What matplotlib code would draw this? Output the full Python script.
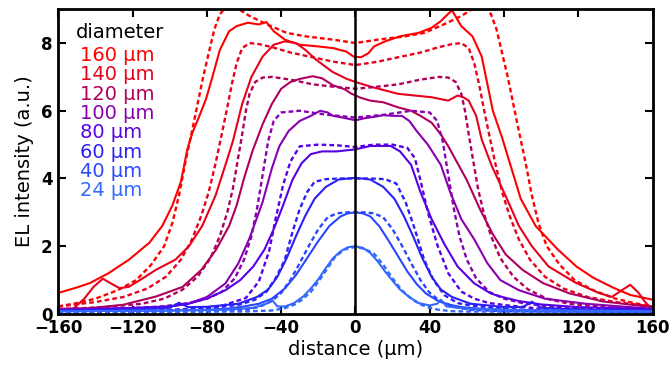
import matplotlib
matplotlib.use("Agg")
import matplotlib.pyplot as plt

# diameters (um) and colours of the legend text / curves
diameters = [160, 140, 120, 100, 80, 60, 40, 24]
colors = ["#ff0000", "#e8001c", "#b0005c", "#8800b0", "#5800e6", "#2a20f8", "#2a46ff", "#3468ff"]

# measured profiles (solid)
x_s160 = [-160, -150, -143, -133, -122, -111, -104, -98.6, -94, -90.5, -87.8, -84, -80.5, -77, -73, -68, -64, -58, -52, -48, -44, -38, -30, -20, -12, -5, -1, 3, 7, 10, 16, 24, 34, 41, 46, 52, 57, 63, 68, 71, 74, 79, 84, 89, 97, 109, 119, 128, 139, 148, 160]
y_s160 = [0.62, 0.78, 0.91, 1.2, 1.6, 2.1, 2.6, 3.2, 3.9, 4.86, 5.35, 5.85, 6.34, 7.0, 7.8, 8.35, 8.5, 8.6, 8.55, 8.62, 8.35, 8.1, 7.95, 7.9, 7.85, 7.75, 7.6, 7.58, 7.7, 7.9, 8.05, 8.2, 8.3, 8.45, 8.65, 8.97, 8.5, 8.2, 7.6, 6.8, 6.0, 5.2, 4.3, 3.4, 2.6, 1.9, 1.4, 1.07, 0.77, 0.56, 0.42]

x_s140 = [-160, -152, -146, -141, -136, -131, -127, -122, -116, -107.5, -97, -89.6, -82.5, -75.3, -70, -66, -61, -56, -50, -44, -38, -32, -27, -21, -12.4, -5, 0, 9, 23, 41, 50, 55, 58, 61, 65, 68, 73.5, 81, 88, 95, 104, 118.6, 131, 138, 143.5, 148, 152.5, 156, 160]
y_s140 = [0.08, 0.15, 0.45, 0.8, 1.04, 0.88, 0.76, 0.8, 1.0, 1.3, 1.6, 2.0, 2.6, 3.5, 4.4, 5.1, 6.2, 7.0, 7.6, 7.95, 8.05, 8.0, 7.8, 7.5, 7.15, 6.95, 6.85, 6.7, 6.5, 6.4, 6.3, 6.45, 6.4, 6.3, 5.85, 5.15, 4.36, 3.47, 2.6, 2.0, 1.4, 0.92, 0.62, 0.5, 0.7, 0.86, 0.62, 0.35, 0.12]

x_s120 = [-160, -143, -125, -107, -93, -83, -75, -68, -64, -60, -55.5, -50, -45, -40, -35, -30, -23, -18, -12, -6, -2, 3, 8, 15, 23, 30, 35, 41, 46, 50, 55, 60, 67, 74, 81, 90, 101, 115, 133, 160]
y_s120 = [0.15, 0.17, 0.27, 0.52, 0.8, 1.3, 1.9, 2.6, 3.2, 4.0, 4.8, 5.6, 6.2, 6.65, 6.85, 6.94, 7.02, 6.96, 6.75, 6.64, 6.5, 6.38, 6.3, 6.25, 6.1, 6.0, 5.85, 5.65, 5.3, 4.95, 4.45, 3.95, 3.1, 2.35, 1.75, 1.3, 0.91, 0.61, 0.37, 0.2]

x_s100 = [-160, -120, -100, -90, -80, -70, -63, -57, -50, -45, -41, -36, -30, -24, -19, -15, -12, -7, 0, 5, 10, 15, 20, 25, 29, 33, 39, 46, 51, 57, 64, 71, 78, 88, 102, 124, 160]
y_s100 = [0.1, 0.15, 0.22, 0.3, 0.5, 0.9, 1.5, 2.24, 3.3, 4.3, 4.95, 5.4, 5.7, 5.85, 6.0, 5.95, 5.85, 5.8, 5.72, 5.78, 5.82, 5.87, 5.85, 5.85, 5.7, 5.4, 5.0, 4.4, 3.6, 2.8, 2.2, 1.5, 1.0, 0.7, 0.45, 0.3, 0.15]

x_s80 = [-160, -120, -100, -90, -80, -70, -62, -55, -49, -44, -39, -34, -29, -24, -18, -10, 0, 8, 19, 24, 30, 35, 41, 48, 55, 64, 73, 79, 88, 94, 100, 120, 160]
y_s80 = [0.12, 0.18, 0.22, 0.3, 0.45, 0.7, 1.0, 1.4, 1.9, 2.5, 3.2, 3.95, 4.45, 4.72, 4.8, 4.8, 4.86, 4.96, 4.96, 4.8, 4.4, 3.6, 2.8, 2.05, 1.4, 0.9, 0.6, 0.5, 0.38, 0.33, 0.28, 0.2, 0.14]

x_s60 = [-160, -120, -100, -95, -90, -80, -63, -53, -47, -42, -37, -32, -27, -22, -16, -9, 0, 8, 15, 21, 26, 31, 36, 41, 46, 52, 62, 79, 90, 95, 100, 120, 160]
y_s60 = [0.1, 0.13, 0.18, 0.33, 0.2, 0.21, 0.3, 0.5, 0.72, 1.1, 1.65, 2.3, 2.9, 3.4, 3.75, 3.97, 4.02, 3.97, 3.75, 3.4, 2.9, 2.3, 1.65, 1.1, 0.72, 0.5, 0.3, 0.21, 0.2, 0.36, 0.18, 0.13, 0.1]

x_s40 = [-160, -100, -80, -70, -61, -52, -45, -38, -32, -26, -20, -14, -8, -4, 0, 4, 8, 13, 18, 23, 28, 33, 38, 44, 50, 57, 68, 80, 100, 160]
y_s40 = [0.08, 0.1, 0.12, 0.15, 0.21, 0.3, 0.45, 0.75, 1.15, 1.65, 2.15, 2.6, 2.88, 2.97, 3.0, 2.97, 2.88, 2.58, 2.15, 1.7, 1.25, 0.88, 0.6, 0.4, 0.28, 0.2, 0.15, 0.12, 0.1, 0.08]

x_s24 = [-160, -100, -70, -55, -48, -45, -42, -38, -33, -28, -24, -20, -16, -12, -8, -4, 0, 4, 8, 12, 16, 20, 24, 29, 34, 40, 44, 46, 49, 60, 100, 160]
y_s24 = [0.08, 0.1, 0.12, 0.18, 0.3, 0.42, 0.22, 0.22, 0.32, 0.52, 0.75, 1.02, 1.35, 1.65, 1.85, 1.97, 2.0, 1.95, 1.8, 1.55, 1.25, 0.98, 0.72, 0.5, 0.32, 0.25, 0.3, 0.42, 0.22, 0.15, 0.1, 0.08]

# simulated profiles (dashed)
x_d160 = [-160, -150, -140, -128, -118, -110, -103, -98.5, -95, -91.5, -88, -85, -82, -79, -76, -73, -70, -66, -62, -57, -48, -37, -27, -12, 0, 12, 27, 37, 48, 57, 62, 66, 70, 73, 76, 79, 82, 85, 88, 91.5, 95, 98.5, 103, 110, 118, 128, 140, 150, 160]
y_d160 = [0.22, 0.32, 0.45, 0.7, 1.0, 1.45, 2.0, 2.7, 3.5, 4.5, 5.4, 6.2, 7.0, 7.7, 8.4, 8.85, 9.05, 9.05, 8.97, 8.8, 8.56, 8.3, 8.2, 8.1, 8.0, 8.1, 8.2, 8.3, 8.56, 8.8, 8.97, 9.05, 9.05, 8.85, 8.4, 7.7, 7.0, 6.2, 5.4, 4.5, 3.5, 2.7, 2.0, 1.45, 1.0, 0.7, 0.45, 0.32, 0.22]

x_d140 = [-160, -140, -125, -112, -102, -94, -88, -83, -79, -75.5, -72, -69, -66.5, -64, -61, -57, -52, -45, -35, -23, -12, 0, 12, 23, 35, 45, 52, 57, 61, 64, 66.5, 69, 72, 75.5, 79, 83, 88, 94, 102, 112, 125, 140, 160]
y_d140 = [0.22, 0.35, 0.5, 0.75, 1.1, 1.6, 2.2, 2.9, 3.6, 4.4, 5.3, 6.1, 6.8, 7.4, 7.85, 8.0, 7.97, 7.88, 7.72, 7.58, 7.45, 7.35, 7.45, 7.58, 7.72, 7.88, 7.97, 8.0, 7.85, 7.4, 6.8, 6.1, 5.3, 4.4, 3.6, 2.9, 2.2, 1.6, 1.1, 0.75, 0.5, 0.35, 0.22]

x_d120 = [-160, -135, -115, -103, -93, -85, -78, -73, -69, -66, -63.5, -61, -59, -57, -54, -50, -45, -35, -23, -10, 0, 10, 23, 35, 45, 50, 54, 57, 59, 61, 63.5, 66, 69, 73, 78, 85, 93, 103, 115, 135, 160]
y_d120 = [0.14, 0.2, 0.3, 0.45, 0.72, 1.1, 1.65, 2.3, 3.0, 3.7, 4.5, 5.3, 6.0, 6.5, 6.85, 6.98, 7.0, 6.92, 6.78, 6.7, 6.65, 6.7, 6.78, 6.92, 7.0, 6.98, 6.85, 6.5, 6.0, 5.3, 4.5, 3.7, 3.0, 2.3, 1.65, 1.1, 0.72, 0.45, 0.3, 0.2, 0.14]

x_d100 = [-160, -130, -104, -90, -80, -72, -65, -60, -56, -53, -50, -47, -44, -40, -30, -15, 0, 15, 30, 40, 44, 47, 50, 53, 56, 60, 65, 72, 80, 90, 104, 130, 160]
y_d100 = [0.1, 0.14, 0.22, 0.32, 0.45, 0.65, 1.05, 1.6, 2.3, 3.1, 4.1, 5.1, 5.7, 5.95, 6.0, 5.88, 5.8, 5.88, 6.0, 5.95, 5.7, 5.1, 4.1, 3.1, 2.3, 1.6, 1.05, 0.65, 0.45, 0.32, 0.22, 0.14, 0.1]

x_d80 = [-160, -100, -85, -73, -59, -52, -46.5, -43, -39, -35, -30, -20, -10, 0, 10, 20, 28, 32, 35, 39, 44, 50, 57, 64, 72, 82, 100, 160]
y_d80 = [0.08, 0.12, 0.16, 0.22, 0.47, 0.96, 1.85, 2.8, 3.8, 4.5, 4.95, 5.0, 4.98, 4.93, 5.0, 5.0, 4.9, 4.6, 3.95, 3.0, 2.05, 1.2, 0.66, 0.45, 0.32, 0.25, 0.15, 0.08]

x_d60 = [-160, -100, -80, -62, -54, -48, -43, -38, -34, -30, -26, -22, -16, -8, 0, 8, 16, 22, 27, 32, 37, 42, 48, 55, 62, 80, 100, 160]
y_d60 = [0.07, 0.1, 0.15, 0.28, 0.42, 0.65, 1.05, 1.6, 2.4, 3.1, 3.6, 3.9, 3.98, 4.0, 4.0, 4.0, 3.98, 3.85, 3.3, 2.5, 1.6, 1.0, 0.55, 0.32, 0.25, 0.15, 0.1, 0.07]

x_d40 = [-160, -80, -60, -52, -45, -40, -35, -30, -25, -20, -15, -10, -5, 0, 5, 10, 15, 20, 25, 30, 35, 40, 46, 54, 62, 80, 160]
y_d40 = [0.05, 0.08, 0.12, 0.2, 0.38, 0.62, 1.0, 1.5, 2.02, 2.5, 2.85, 2.97, 3.0, 3.0, 3.0, 2.97, 2.85, 2.5, 2.02, 1.5, 1.0, 0.62, 0.36, 0.2, 0.12, 0.08, 0.05]

x_d24 = [-160, -60, -45, -38, -33, -29, -24, -20, -15, -11, -6, 0, 5, 10, 15, 20, 25, 30, 35, 40, 45, 52, 60, 160]
y_d24 = [0.05, 0.07, 0.1, 0.17, 0.27, 0.41, 0.65, 0.95, 1.35, 1.68, 1.9, 1.98, 1.92, 1.78, 1.45, 1.05, 0.7, 0.45, 0.28, 0.18, 0.12, 0.08, 0.07, 0.05]

solid = [(x_s160, y_s160), (x_s140, y_s140), (x_s120, y_s120), (x_s100, y_s100),
         (x_s80, y_s80), (x_s60, y_s60), (x_s40, y_s40), (x_s24, y_s24)]
dashed = [(x_d160, y_d160), (x_d140, y_d140), (x_d120, y_d120), (x_d100, y_d100),
          (x_d80, y_d80), (x_d60, y_d60), (x_d40, y_d40), (x_d24, y_d24)]

fig, ax = plt.subplots(figsize=(6.7, 3.68), dpi=100)
fig.subplots_adjust(left=0.087, right=0.974, bottom=0.147, top=0.975)

for (xs, ys), (xd, yd), c in zip(solid, dashed, colors):
    ax.plot(xd, yd, color=c, lw=1.7, linestyle=(0, (2.0, 1.3)))
    ax.plot(xs, ys, color=c, lw=1.5)

ax.axvline(0, color="black", lw=1.8)

ax.set_xlim(-160, 160)
ax.set_ylim(0, 9)
ax.set_xticks(range(-160, 161, 40))
ax.set_yticks([0, 2, 4, 6, 8])
ax.tick_params(direction="in", length=6, width=1.5, top=True, right=True, labelsize=12, pad=4)
for lbl in ax.get_xticklabels() + ax.get_yticklabels():
    lbl.set_fontweight("bold")
for sp in ax.spines.values():
    sp.set_linewidth(2)

ax.set_xlabel("distance (µm)", fontsize=14, labelpad=2)
ax.set_ylabel("EL intensity (a.u.)", fontsize=14, labelpad=5)

# legend as coloured text
ax.text(0.029, 0.905, "diameter", transform=ax.transAxes, fontsize=14, color="black", va="baseline")
for i, (d, c) in enumerate(zip(diameters, colors)):
    ax.text(0.037, 0.830 - i * 0.0635, f"{d} µm", transform=ax.transAxes,
            fontsize=14, color=c, va="baseline")

plt.savefig("out.png", dpi=100)
